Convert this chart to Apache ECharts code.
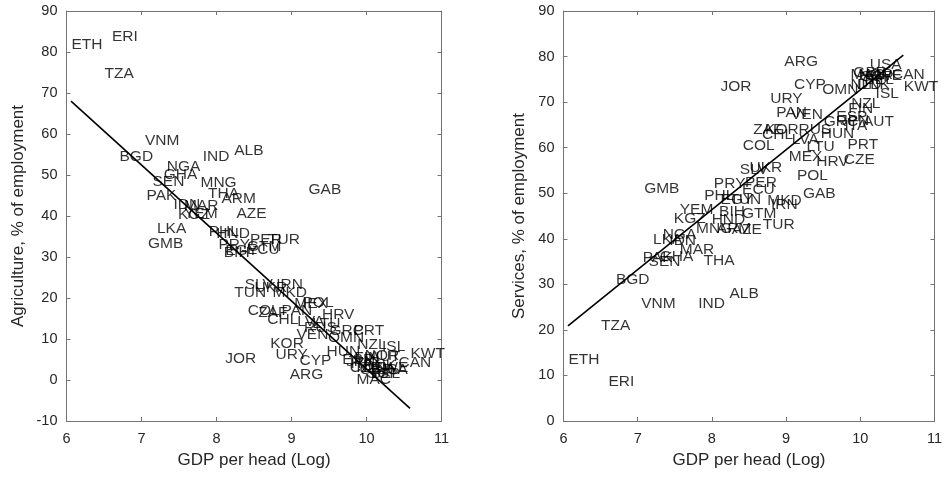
<!DOCTYPE html>
<html>
<head>
<meta charset="utf-8">
<script src="https://cdn.jsdelivr.net/npm/echarts@6/dist/echarts.min.js"></script>
<style>
  html, body { margin: 0; padding: 0; background: #ffffff; }
  #chart { width: 945px; height: 477px; }
</style>
</head>
<body>
<div id="chart"></div>
<script>
// Country codes and their log GDP per head
const countries = [
  'ETH','ERI','TZA','BGD','VNM','PAK','GMB','SEN','LKA','GHA',
  'NGA','IDN','KGZ','YEM','MAR','MNG','IND','THA','PHL','HND',
  'PRY','ARM','BIH','EGY','JOR','TUN','ALB','AZE','SLV','GTM',
  'ECU','COL','PER','UKR','ZAF','CHL','TUR','KOR','MKD','IRN',
  'URY','PAN','ARG','MEX','VEN','LVA','CYP','POL','RUS','GAB',
  'LTU','HRV','HUN','OMN','GRC','ESP','JPN','CZE','ITA','PRT',
  'FIN','MAC','NZL','GBR','DNK','NLD','NOR','AUT','BEL','SWE',
  'USA','ISL','SGP','CAN','KWT'
];
const gdpLog = [
  6.06, 6.60, 6.50, 6.70, 7.04, 7.06, 7.08, 7.14, 7.20, 7.29,
  7.33, 7.42, 7.48, 7.56, 7.56, 7.78, 7.81, 7.88, 7.89, 7.99,
  8.02, 8.06, 8.09, 8.11, 8.11, 8.23, 8.23, 8.26, 8.37, 8.40,
  8.40, 8.41, 8.44, 8.50, 8.55, 8.67, 8.68, 8.71, 8.74, 8.79,
  8.78, 8.86, 8.97, 9.03, 9.06, 9.07, 9.10, 9.14, 9.16, 9.22,
  9.27, 9.40, 9.46, 9.48, 9.50, 9.67, 9.72, 9.77, 9.78, 9.82,
  9.83, 9.86, 9.87, 9.90, 9.95, 9.86, 9.97, 10.03, 10.05, 10.08,
  10.12, 10.20, 10.00, 10.42, 10.58
];
// Employment in agriculture, % of total
const agriculture = [
  81.7, 83.7, 74.8, 54.5, 58.3, 44.9, 33.3, 48.4, 36.8, 50.0,
  52.0, 42.7, 40.2, 40.5, 42.5, 48.1, 54.5, 45.4, 36.2, 35.6,
  32.9, 44.1, 31.0, 31.5, 5.3, 21.3, 55.9, 40.6, 23.2, 32.5,
  31.7, 16.8, 34.3, 22.5, 16.3, 14.6, 34.1, 8.8, 21.2, 23.2,
  6.1, 17.0, 1.2, 18.5, 11.0, 14.2, 4.7, 18.8, 12.8, 46.3,
  13.8, 16.0, 6.9, 10.2, 12.0, 5.0, 4.5, 3.0, 4.0, 11.9,
  5.5, 0.0, 8.5, 2.4, 3.6, 3.0, 6.0, 5.7, 1.5, 3.0,
  2.4, 8.0, 1.5, 4.1, 6.5
];
// Employment in services, % of total
const services = [
  13.4, 8.6, 20.9, 31.0, 25.7, 35.9, 50.9, 35.0, 39.7, 36.1,
  40.8, 39.5, 44.5, 46.3, 37.5, 42.3, 25.8, 35.1, 49.4, 44.2,
  52.0, 42.3, 45.9, 48.5, 73.4, 48.5, 28.0, 42.0, 55.1, 45.6,
  50.7, 60.4, 52.4, 55.5, 64.0, 62.8, 43.0, 63.9, 48.4, 47.4,
  70.8, 67.7, 78.9, 58.0, 67.3, 61.8, 73.8, 53.8, 63.9, 50.0,
  60.1, 56.9, 63.0, 72.7, 65.7, 66.7, 66.0, 57.4, 64.8, 60.6,
  68.6, 76.0, 69.7, 76.5, 73.8, 73.8, 76.0, 65.7, 75.0, 75.8,
  78.1, 71.8, 75.5, 76.1, 73.4
];
// Fitted linear trends, evaluated at the smallest and largest GDP values
const fitGdp = [6.06, 10.58];
const fitAgriculture = [68.0, -6.9];
const fitServices = [20.9, 80.3];

// Axis ranges and tick steps
const xRange = [6, 11, 1];
const agrRange = [-10, 90, 10];
const srvRange = [0, 90, 10];

const AXIS_COLOR = '#737373';
const TEXT_COLOR = '#262626';
const FONT = '"Liberation Sans", Arial, Helvetica, sans-serif';

function pointsOf(values) {
  return countries.map((c, i) => [gdpLog[i], values[i], c]);
}
function fitOf(values) {
  return fitGdp.map((g, i) => [g, values[i]]);
}

function xAxisPair(grid, name) {
  const base = {
    gridIndex: grid, type: 'value',
    min: xRange[0], max: xRange[1], interval: xRange[2],
    splitLine: { show: false },
    axisLine: { show: true, onZero: false, lineStyle: { color: AXIS_COLOR, width: 1 } },
    axisTick: { show: true, inside: true, length: 4, lineStyle: { color: AXIS_COLOR } }
  };
  return [
    Object.assign({}, base, {
      position: 'bottom',
      name: name, nameLocation: 'middle', nameGap: 31,
      nameTextStyle: { color: TEXT_COLOR, fontSize: 17, fontFamily: FONT },
      axisLabel: { color: TEXT_COLOR, fontSize: 14.5, fontFamily: FONT, margin: 10 }
    }),
    Object.assign({}, base, { position: 'top', axisLabel: { show: false } })
  ];
}
function yAxisPair(grid, range, name, gap) {
  const base = {
    gridIndex: grid, type: 'value',
    min: range[0], max: range[1], interval: range[2],
    splitLine: { show: false },
    axisLine: { show: true, onZero: false, lineStyle: { color: AXIS_COLOR, width: 1 } },
    axisTick: { show: true, inside: true, length: 4, lineStyle: { color: AXIS_COLOR } }
  };
  return [
    Object.assign({}, base, {
      position: 'left',
      name: name, nameLocation: 'middle', nameGap: gap,
      nameTextStyle: { color: TEXT_COLOR, fontSize: 17, fontFamily: FONT },
      axisLabel: { color: TEXT_COLOR, fontSize: 14.5, fontFamily: FONT, margin: 9 }
    }),
    Object.assign({}, base, { position: 'right', axisLabel: { show: false } })
  ];
}

function labelSeries(xi, yi, values) {
  return {
    type: 'scatter', xAxisIndex: xi, yAxisIndex: yi,
    data: pointsOf(values),
    symbolSize: 1,
    itemStyle: { color: 'rgba(0,0,0,0)' },
    silent: true,
    label: {
      show: true, position: 'right', distance: 0,
      formatter: p => p.data[2],
      color: '#000000', fontSize: 15.5, fontFamily: FONT
    },
    labelLayout: { hideOverlap: false },
    z: 2
  };
}
function fitSeries(xi, yi, values) {
  return {
    type: 'line', xAxisIndex: xi, yAxisIndex: yi,
    data: fitOf(values),
    symbol: 'none', silent: true,
    lineStyle: { color: '#000000', width: 1.6 },
    z: 3
  };
}

const chart = echarts.init(document.getElementById('chart'), null, { renderer: 'canvas' });
chart.setOption({
  animation: false,
  backgroundColor: '#ffffff',
  grid: [
    { left: 66.5, top: 11, width: 375, height: 410 },
    { left: 563.5, top: 11, width: 374, height: 410 }
  ],
  xAxis: [].concat(
    xAxisPair(0, 'GDP per head (Log)'),
    xAxisPair(1, 'GDP per head (Log)')
  ),
  yAxis: [].concat(
    yAxisPair(0, agrRange, 'Agriculture, % of employment', 40),
    yAxisPair(1, srvRange, 'Services, % of employment', 36)
  ),
  series: [
    labelSeries(0, 0, agriculture),
    fitSeries(0, 0, fitAgriculture),
    labelSeries(2, 2, services),
    fitSeries(2, 2, fitServices)
  ]
});
</script>
</body>
</html>
